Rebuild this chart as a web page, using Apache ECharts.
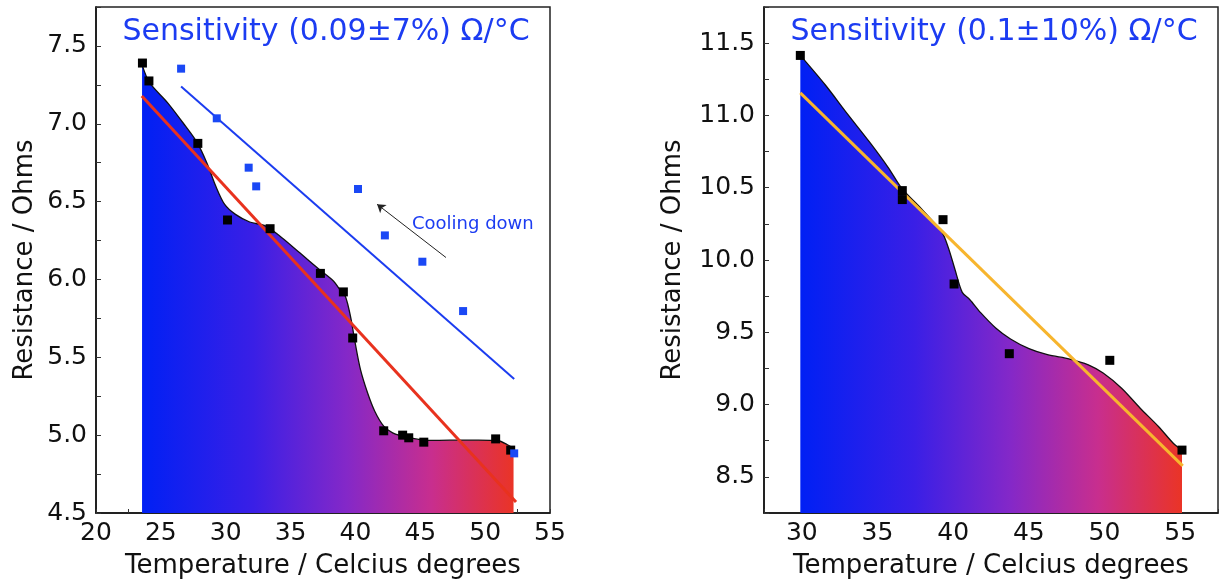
<!DOCTYPE html>
<html>
<head>
<meta charset="utf-8">
<script src="https://cdn.jsdelivr.net/npm/echarts@6/dist/echarts.min.js"></script>
<style>
html,body{margin:0;padding:0;background:#fff;}
#chart{width:1221px;height:584px;}
</style>
</head>
<body>
<div id="chart"></div>
<script>
// ---- Left panel data ----
const heatT = [23.58, 24.08, 27.85, 30.14, 33.42, 37.3, 39.07, 39.79, 42.18, 43.64, 44.11, 45.27, 50.81, 51.97];
const heatR = [7.39, 7.275, 6.874, 6.382, 6.326, 6.039, 5.92, 5.624, 5.028, 5.0, 4.983, 4.955, 4.976, 4.904];
const coolT = [26.56, 29.31, 31.77, 32.35, 40.2, 42.27, 45.16, 48.3, 52.24];
const coolR = [7.354, 7.035, 6.718, 6.598, 6.581, 6.283, 6.114, 5.797, 4.883];
const curveLT = [23.55, 24.13, 25.51, 26.89, 27.8, 28.54, 29.23, 29.92, 30.75, 31.85, 33.09, 34.33, 35.71, 37.22, 38.32, 38.88, 39.23, 39.62, 39.98, 40.39, 40.94, 41.49, 42.18, 42.87, 43.97, 45.63, 47.28, 49.48, 51.0, 51.69, 52.19];
const curveLR = [7.38, 7.264, 7.136, 6.986, 6.879, 6.75, 6.6, 6.482, 6.418, 6.369, 6.343, 6.268, 6.171, 6.064, 5.989, 5.925, 5.891, 5.763, 5.592, 5.421, 5.271, 5.154, 5.058, 5.015, 4.987, 4.966, 4.968, 4.968, 4.964, 4.94, 4.915];
const heatFitT = [23.53, 52.38];
const heatFitR = [7.179, 4.571];
const coolFitT = [26.56, 52.24];
const coolFitR = [7.239, 5.361];
const arrowT = [46.98, 41.67];
const arrowR = [6.141, 6.483];

// ---- Right panel data ----
const rightT = [29.9, 36.64, 36.64, 39.33, 40.06, 43.71, 50.35, 55.12];
const rightR = [11.415, 10.48, 10.418, 10.279, 9.834, 9.352, 9.306, 8.685];
const curveRT = [29.9, 31.54, 33.01, 34.48, 35.7, 36.64, 37.91, 39.26, 39.67, 40.11, 40.6, 41.09, 41.83, 42.81, 43.79, 45.01, 46.23, 47.7, 48.93, 49.91, 51.13, 52.36, 53.58, 54.56, 55.12];
const curveRR = [11.415, 11.212, 11.011, 10.815, 10.641, 10.491, 10.353, 10.191, 10.088, 9.938, 9.776, 9.727, 9.634, 9.53, 9.454, 9.387, 9.345, 9.315, 9.275, 9.218, 9.113, 8.975, 8.847, 8.731, 8.685];
const rightFitT = [29.9, 55.17];
const rightFitR = [11.156, 8.576];

// ---- Labels ----
const titleLeft = 'Sensitivity (0.09\u00b17%) \u03a9/\u00b0C';
const titleRight = 'Sensitivity (0.1\u00b110%) \u03a9/\u00b0C';
const xName = 'Temperature / Celcius degrees';
const yName = 'Resistance / Ohms';
const coolingText = 'Cooling down';

const FONT = 'DejaVu Sans';
const zip = (a, b) => a.map((v, i) => [v, b[i]]);

function grad() {
  return new echarts.graphic.LinearGradient(0, 0, 1, 0, [
    {offset: 0, color: '#0020f4'},
    {offset: 0.3, color: '#3a1fe6'},
    {offset: 0.55, color: '#8428c8'},
    {offset: 0.78, color: '#c82e8e'},
    {offset: 1, color: '#ea3426'}
  ]);
}

function xAxis(idx, min, max, nameStr) {
  return {
    type: 'value', gridIndex: idx, min: min, max: max, interval: 2.5,
    name: nameStr, nameLocation: 'middle', nameGap: 40,
    nameTextStyle: {fontFamily: FONT, fontSize: 26, color: '#111'},
    axisLine: {show: true, lineStyle: {color: '#111', width: 1.5}},
    axisTick: {show: true, inside: true, length: 4, lineStyle: {color: '#333'}},
    axisLabel: {fontFamily: FONT, fontSize: 25, color: '#111', margin: 8,
      formatter: v => (Math.abs(v % 5) < 1e-6 ? String(Math.round(v)) : '')},
    splitLine: {show: false}
  };
}
function yAxis(idx, min, max, nameStr, gap) {
  return {
    type: 'value', gridIndex: idx, min: min, max: max, interval: 0.25,
    name: nameStr, nameLocation: 'middle', nameGap: gap,
    nameTextStyle: {fontFamily: FONT, fontSize: 26, color: '#111'},
    axisLine: {show: true, lineStyle: {color: '#111', width: 1.5}},
    axisTick: {show: true, inside: true, length: 5, lineStyle: {color: '#333'}},
    axisLabel: {fontFamily: FONT, fontSize: 25, color: '#111', margin: 9,
      formatter: v => (Math.abs((v * 2) - Math.round(v * 2)) < 1e-6 ? v.toFixed(1) : '')},
    splitLine: {show: false}
  };
}

const chart = echarts.init(document.getElementById('chart'), null, {renderer: 'canvas'});
chart.setOption({
  animation: false,
  backgroundColor: '#fff',
  grid: [
    {left: 96, right: 671, top: 7, bottom: 71, show: true, borderColor: '#222', borderWidth: 1.5, backgroundColor: 'transparent'},
    {left: 764, right: 3, top: 7, bottom: 71, show: true, borderColor: '#222', borderWidth: 1.5, backgroundColor: 'transparent'}
  ],
  xAxis: [xAxis(0, 20, 55, xName), xAxis(1, 27.5, 57.5, xName)],
  yAxis: [yAxis(0, 4.5, 7.75, yName, 58), yAxis(1, 8.25, 11.75, yName, 78)],
  series: [
    {type: 'line', xAxisIndex: 0, yAxisIndex: 0, data: zip(curveLT, curveLR), smooth: 0.3,
      showSymbol: false, symbol: 'none', lineStyle: {color: '#111', width: 1.3},
      areaStyle: {origin: 'start', opacity: 1, color: grad()}, z: 2},
    {type: 'line', xAxisIndex: 0, yAxisIndex: 0, data: zip(heatFitT, heatFitR), symbol: 'none',
      lineStyle: {color: '#e8321e', width: 3}, z: 3},
    {type: 'line', xAxisIndex: 0, yAxisIndex: 0, data: zip(coolFitT, coolFitR), symbol: 'none',
      lineStyle: {color: '#1b3cf0', width: 2}, z: 3,
      markLine: {silent: true, symbol: ['none', 'arrow'], symbolSize: 8, animation: false,
        lineStyle: {color: '#222', width: 1, type: 'solid'}, label: {show: false},
        data: [[{coord: [arrowT[0], arrowR[0]]}, {coord: [arrowT[1], arrowR[1]]}]]}},
    {type: 'scatter', xAxisIndex: 0, yAxisIndex: 0, data: zip(heatT, heatR), symbol: 'rect', symbolSize: 9,
      itemStyle: {color: '#000', opacity: 1}, z: 4},
    {type: 'scatter', xAxisIndex: 0, yAxisIndex: 0, data: zip(coolT, coolR), symbol: 'rect', symbolSize: 8,
      itemStyle: {color: '#1a48f5', opacity: 1}, z: 5},

    {type: 'line', xAxisIndex: 1, yAxisIndex: 1, data: zip(curveRT, curveRR), smooth: 0.3,
      showSymbol: false, symbol: 'none', lineStyle: {color: '#111', width: 1.3},
      areaStyle: {origin: 'start', opacity: 1, color: grad()}, z: 2},
    {type: 'line', xAxisIndex: 1, yAxisIndex: 1, data: zip(rightFitT, rightFitR), symbol: 'none',
      lineStyle: {color: '#f7b52e', width: 3}, z: 3},
    {type: 'scatter', xAxisIndex: 1, yAxisIndex: 1, data: zip(rightT, rightR), symbol: 'rect', symbolSize: 9,
      itemStyle: {color: '#000', opacity: 1}, z: 4}
  ],
  graphic: [
    {type: 'text', x: 326, y: 32, style: {text: titleLeft, fontFamily: FONT, fontSize: 30, fill: '#1c3cf2', textAlign: 'center', textVerticalAlign: 'middle'}},
    {type: 'text', x: 994, y: 32, style: {text: titleRight, fontFamily: FONT, fontSize: 30, fill: '#1c3cf2', textAlign: 'center', textVerticalAlign: 'middle'}},
    {type: 'text', x: 412, y: 224, style: {text: coolingText, fontFamily: FONT, fontSize: 18, fill: '#1c3cf2', textAlign: 'left', textVerticalAlign: 'middle'}}
  ]
});
</script>
</body>
</html>
